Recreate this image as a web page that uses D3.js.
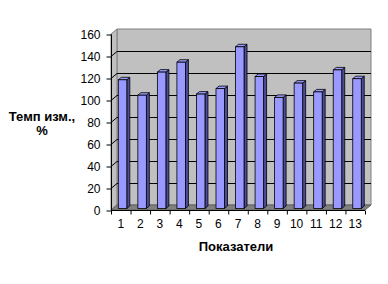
<!DOCTYPE html>
<html>
<head>
<meta charset="utf-8">
<script src="https://cdn.jsdelivr.net/npm/d3@7"></script>
<style>
  body { margin: 0; background: #fff; }
  text { font-family: "Liberation Sans", Arial, sans-serif; }
</style>
</head>
<body>
<div id="vis"></div>
<script>
// chart data
const categories = ['1','2','3','4','5','6','7','8','9','10','11','12','13'];
const values = [117, 103, 124, 133, 104, 109, 147, 120, 101, 114, 106, 126, 118];
const yTicks = [0, 20, 40, 60, 80, 100, 120, 140, 160];

const width = 388, height = 284;
// 3d depth offset of the plot box
const depth = { x: 6, y: -5 };

const x = d3.scaleBand().domain(categories).range([111, 365]);
const y = d3.scaleLinear().domain([0, 160]).range([210, 34]);

const svg = d3.select('#vis').append('svg')
  .attr('width', width).attr('height', height);

const x0 = x.range()[0], x1 = x.range()[1];
const yb = y(0), yt = y(160);

// back wall
svg.append('polygon')
  .attr('points', [[x0 + depth.x, yt + depth.y], [x1 + depth.x, yt + depth.y],
                   [x1 + depth.x, yb + depth.y], [x0 + depth.x, yb + depth.y]].join(' '))
  .attr('fill', '#c0c0c0').attr('stroke', '#808080');

// side wall
svg.append('polygon')
  .attr('points', [[x0, yb], [x0, yt], [x0 + depth.x, yt + depth.y], [x0 + depth.x, yb + depth.y]].join(' '))
  .attr('fill', '#c0c0c0').attr('stroke', '#808080');

// floor
svg.append('polygon')
  .attr('points', [[x0, yb], [x1, yb], [x1 + depth.x, yb + depth.y], [x0 + depth.x, yb + depth.y]].join(' '))
  .attr('fill', '#808080').attr('stroke', '#606060');

// gridlines on back wall and side wall
const grid = svg.append('g');
yTicks.filter(d => d > 0 && d < 160).forEach(d => {
  grid.append('line')
    .attr('x1', x0 + depth.x).attr('x2', x1 + depth.x)
    .attr('y1', y(d) + depth.y + 0.5).attr('y2', y(d) + depth.y + 0.5)
    .attr('stroke', '#000');
  grid.append('line')
    .attr('x1', x0).attr('x2', x0 + depth.x)
    .attr('y1', y(d) + 0.5).attr('y2', y(d) + depth.y + 0.5)
    .attr('stroke', '#000');
});

// bars: front plane at 30% depth, back plane at 80%
const f0 = 0.3, f1 = 0.8;
const barW = 8.5;
const bars = svg.selectAll('.bar')
  .data(categories.map((c, i) => ({ c, v: values[i] })))
  .enter().append('g').attr('class', 'bar');

const fx = d => x(d.c) + 5.5 + depth.x * f0;
const fy = d => y(d.v) + depth.y * f0;
const fb = yb + depth.y * f0;
const sx = depth.x * (f1 - f0), sy = depth.y * (f1 - f0);

bars.append('polygon') // side
  .attr('points', d => [[fx(d) + barW, fy(d)], [fx(d) + barW + sx, fy(d) + sy],
                        [fx(d) + barW + sx, fb + sy], [fx(d) + barW, fb]].join(' '))
  .attr('fill', '#4c4c99').attr('stroke', '#000').attr('stroke-width', 0.8);

bars.append('polygon') // top
  .attr('points', d => [[fx(d), fy(d)], [fx(d) + sx, fy(d) + sy],
                        [fx(d) + barW + sx, fy(d) + sy], [fx(d) + barW, fy(d)]].join(' '))
  .attr('fill', '#9999ff').attr('stroke', '#000').attr('stroke-width', 0.8);

bars.append('rect') // front
  .attr('x', fx).attr('y', fy)
  .attr('width', barW).attr('height', d => fb - fy(d))
  .attr('fill', '#9999ff').attr('stroke', '#000').attr('stroke-width', 0.8);

// y axis
const yAxis = svg.append('g')
  .attr('transform', `translate(${x0 + 0.5},0.5)`)
  .call(d3.axisLeft(y).tickValues(yTicks).tickSize(5).tickPadding(6));
yAxis.selectAll('text').attr('font-size', 12).attr('fill', '#000');
yAxis.selectAll('line, path').attr('stroke', '#000');
yAxis.select('.domain').attr('d', `M0,${yt}V${yb}`);

// x axis
const xAxis = svg.append('g')
  .attr('transform', `translate(0,${yb + 0.5})`);
xAxis.append('line').attr('x1', x0).attr('x2', x1).attr('stroke', '#000');
xAxis.selectAll('.tk').data(categories.concat(['end']))
  .enter().append('line')
  .attr('x1', (d, i) => x0 + i * x.step() + 0.5).attr('x2', (d, i) => x0 + i * x.step() + 0.5)
  .attr('y1', 0).attr('y2', 4).attr('stroke', '#000');
xAxis.selectAll('.lbl').data(categories)
  .enter().append('text')
  .attr('x', d => x(d) + x.bandwidth() / 2)
  .attr('y', 17)
  .attr('text-anchor', 'middle')
  .attr('font-size', 12)
  .text(d => d);

// axis titles
svg.append('text')
  .attr('x', 236).attr('y', 251)
  .attr('text-anchor', 'middle')
  .attr('font-size', 13).attr('font-weight', 'bold')
  .text('Показатели');

const yTitle = svg.append('text')
  .attr('text-anchor', 'middle')
  .attr('font-size', 13).attr('font-weight', 'bold');
yTitle.append('tspan').attr('x', 42).attr('y', 121).text('Темп изм.,');
yTitle.append('tspan').attr('x', 42).attr('y', 135).text('%');
</script>
</body>
</html>
